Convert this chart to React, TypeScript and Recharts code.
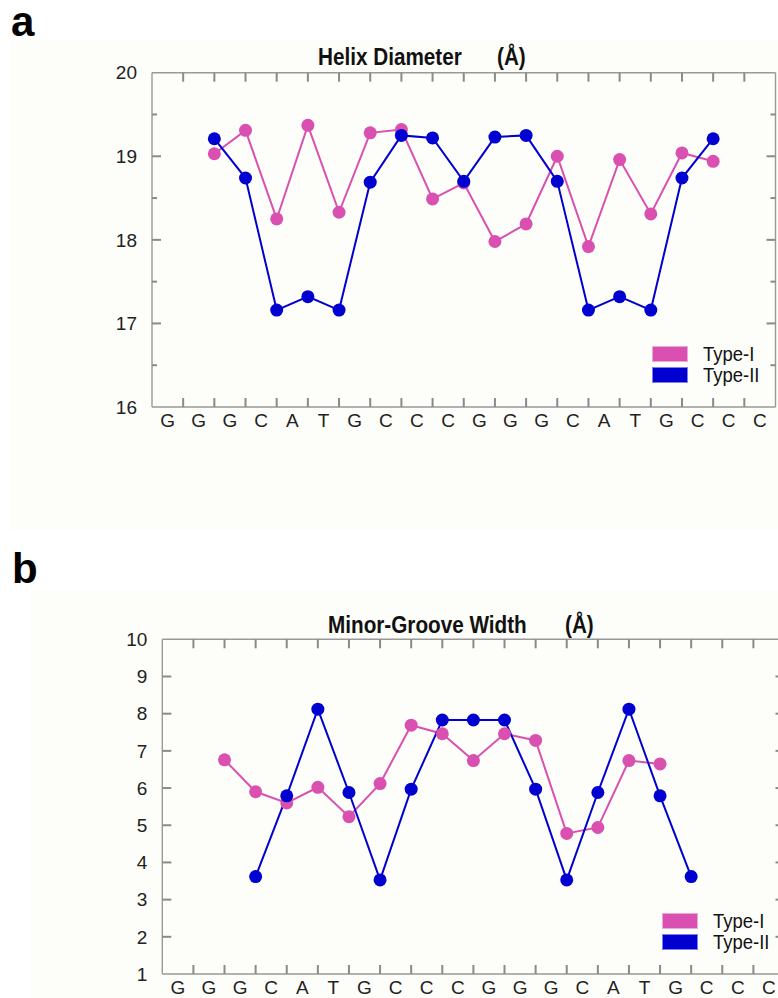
import { LineChart, Line, XAxis, YAxis, Legend } from 'recharts'

// base sequence along the x axis; values sit on the steps between bases
const bases = ['G', 'G', 'G', 'C', 'A', 'T', 'G', 'C', 'C', 'C', 'G', 'G', 'G', 'C', 'A', 'T', 'G', 'C', 'C', 'C']
const stepTicks = [1, 2, 3, 4, 5, 6, 7, 8, 9, 10, 11, 12, 13, 14, 15, 16, 17, 18, 19]
// letters sit halfway between steps, marks sit on the steps
const bottomTicks = bases.flatMap((_, i) => (i === 0 ? [0.5] : [i, i + 0.5]))

// panel a: helix diameter (Å)
const helixSteps = [2, 3, 4, 5, 6, 7, 8, 9, 10, 11, 12, 13, 14, 15, 16, 17, 18]
const helixTypeI = [19.03, 19.31, 18.25, 19.37, 18.33, 19.28, 19.32, 18.49, 18.68, 17.98, 18.19, 19.0, 17.92, 18.96, 18.31, 19.04, 18.94]
const helixTypeII = [19.21, 18.74, 17.16, 17.32, 17.16, 18.69, 19.25, 19.22, 18.7, 19.23, 19.25, 18.7, 17.16, 17.32, 17.16, 18.74, 19.21]
const helixTicks = [16, 16.5, 17, 17.5, 18, 18.5, 19, 19.5, 20]

// panel b: minor-groove width (Å)
const grooveStepsI = [2, 3, 4, 5, 6, 7, 8, 9, 10, 11, 12, 13, 14, 15, 16]
const grooveTypeI = [6.76, 5.9, 5.6, 6.02, 5.23, 6.12, 7.69, 7.46, 6.74, 7.46, 7.28, 4.78, 4.94, 6.74, 6.65]
const grooveStepsII = [3, 4, 5, 6, 7, 8, 9, 10, 11, 12, 13, 14, 15, 16, 17]
const grooveTypeII = [3.62, 5.79, 8.12, 5.88, 3.53, 5.97, 7.83, 7.83, 7.83, 5.97, 3.53, 5.88, 8.12, 5.79, 3.62]
const grooveTicks = [1, 2, 3, 4, 5, 6, 7, 8, 9, 10]

const PINK = '#d950b1'
const BLUE = '#0000d0'
const AXIS = '#999999'
const MARK = '#8a8a8a'
const SANS = '"Liberation Sans", Arial, Helvetica, sans-serif'
const MAJOR = 9
const MINOR = 5
const MARK_W = 2

const toPoints = (steps: number[], vals: number[]) => steps.map((x, i) => ({ x, v: vals[i] }))
const isWhole = (v: number) => Math.abs(v - Math.round(v)) < 1e-6

// bottom axis: tickSize 6 + tickMargin 1 below the plot edge
function BottomTick(props: any) {
  const x = Number(props.x)
  const y = Number(props.y)
  const v = Number(props.payload.value)
  const edge = y - 7
  if (isWhole(v)) {
    return (
      <g>
        <line x1={x} x2={x} y1={edge} y2={edge - MAJOR} stroke={MARK} strokeWidth={MARK_W} />
      </g>
    )
  }
  return (
    <g>
      <text x={x} y={y} dy="0.71em" textAnchor="middle" fill="#222" fontSize={19} fontFamily={SANS}>
        {bases[Math.floor(v)]}
      </text>
    </g>
  )
}

// top axis has no tick size or margin, so y is the plot edge
function TopTick(props: any) {
  const x = Number(props.x)
  const y = Number(props.y)
  return (
    <g>
      <line x1={x} x2={x} y1={y} y2={y + MAJOR} stroke={MARK} strokeWidth={MARK_W} />
    </g>
  )
}

function makeLeftTick(lo: number, hi: number) {
  return function LeftTick(props: any) {
    const x = Number(props.x)
    const y = Number(props.y)
    const v = Number(props.payload.value)
    const edge = x + 15
    const len = isWhole(v) ? MAJOR : MINOR
    return (
      <g>
        {v > lo && v < hi && <line x1={edge} x2={edge + len} y1={y} y2={y} stroke={MARK} strokeWidth={MARK_W} />}
        {isWhole(v) && (
          <text x={x} y={y} dy="0.355em" textAnchor="end" fill="#222" fontSize={19} fontFamily={SANS}>
            {v}
          </text>
        )}
      </g>
    )
  }
}

function makeRightTick(lo: number, hi: number) {
  return function RightTick(props: any) {
    const x = Number(props.x)
    const y = Number(props.y)
    const v = Number(props.payload.value)
    const len = isWhole(v) ? MAJOR : MINOR
    return (
      <g>
        {v > lo && v < hi && <line x1={x} x2={x - len} y1={y} y2={y} stroke={MARK} strokeWidth={MARK_W} />}
      </g>
    )
  }
}

function LegendBox({ payload }: any) {
  return (
    <div>
      {(payload || []).map((p: any) => (
        <div key={p.value} style={{ display: 'flex', alignItems: 'center', height: 21 }}>
          <span
            style={{
              display: 'inline-block',
              width: 36,
              height: 16,
              background: p.color,
              boxSizing: 'border-box',
              border: '1px solid rgba(255,255,255,0.5)',
            }}
          />
          <span
            style={{
              display: 'inline-block',
              marginLeft: 15,
              fontFamily: SANS,
              fontSize: 21,
              color: '#111',
              lineHeight: '20px',
              transform: 'scaleX(0.88)',
              transformOrigin: 'left center',
              whiteSpace: 'nowrap',
            }}
          >
            {p.value}
          </span>
        </div>
      ))}
    </div>
  )
}

interface PanelProps {
  top: number
  width: number
  height: number
  margin: { top: number; right: number; bottom: number; left: number }
  yDomain: [number, number]
  yTicks: number[]
  typeI: { x: number; v: number }[]
  typeII: { x: number; v: number }[]
  legendLeft: number
  legendTop: number
}

function Panel(props: PanelProps) {
  const { top, width, height, margin, yDomain, yTicks, typeI, typeII, legendLeft, legendTop } = props
  const [lo, hi] = yDomain
  return (
    <div style={{ position: 'absolute', top, left: 0 }}>
      <LineChart width={width} height={height} margin={margin}>
        <XAxis
          xAxisId="lab"
          type="number"
          dataKey="x"
          domain={[0, 20]}
          allowDataOverflow
          ticks={bottomTicks}
          interval={0}
          tickLine={false}
          tickSize={6}
          tickMargin={1}
          height={30}
          axisLine={{ stroke: AXIS, strokeWidth: 1.4 }}
          tick={BottomTick}
        />
        <XAxis
          xAxisId="tp"
          orientation="top"
          type="number"
          dataKey="x"
          domain={[0, 20]}
          allowDataOverflow
          ticks={stepTicks}
          interval={0}
          height={1}
          tickLine={false}
          tickSize={0}
          tickMargin={0}
          axisLine={{ stroke: AXIS, strokeWidth: 1.4 }}
          tick={TopTick}
        />
        <YAxis
          yAxisId="y"
          type="number"
          domain={yDomain}
          allowDataOverflow
          ticks={yTicks}
          interval={0}
          width={50}
          tickLine={false}
          tickSize={8}
          tickMargin={7}
          axisLine={{ stroke: AXIS, strokeWidth: 1.4 }}
          tick={makeLeftTick(lo, hi)}
        />
        <YAxis
          yAxisId="r"
          orientation="right"
          type="number"
          domain={yDomain}
          allowDataOverflow
          ticks={yTicks}
          interval={0}
          width={1}
          tickLine={false}
          tickSize={0}
          tickMargin={0}
          axisLine={{ stroke: AXIS, strokeWidth: 1.4 }}
          tick={makeRightTick(lo, hi)}
        />
        <Line
          xAxisId="lab"
          yAxisId="y"
          name="Type-I"
          data={typeI}
          dataKey="v"
          stroke={PINK}
          strokeWidth={2}
          dot={{ r: 6.5, fill: PINK, stroke: PINK, strokeWidth: 0 }}
          isAnimationActive={false}
        />
        <Line
          xAxisId="lab"
          yAxisId="y"
          name="Type-II"
          data={typeII}
          dataKey="v"
          stroke={BLUE}
          strokeWidth={2}
          dot={{ r: 6.5, fill: BLUE, stroke: BLUE, strokeWidth: 0 }}
          isAnimationActive={false}
        />
        <Legend
          layout="vertical"
          align="center"
          verticalAlign="middle"
          wrapperStyle={{ left: legendLeft, top: legendTop, width: 140 }}
          content={LegendBox}
        />
      </LineChart>
    </div>
  )
}

const titleStyle = {
  position: 'absolute' as const,
  fontFamily: SANS,
  fontWeight: 700,
  fontSize: 23,
  lineHeight: '23px',
  color: '#111',
  whiteSpace: 'pre' as const,
  transform: 'scaleX(0.9)',
  transformOrigin: 'left center',
}

const panelLetter = {
  position: 'absolute' as const,
  fontFamily: SANS,
  fontWeight: 700,
  fontSize: 42,
  lineHeight: '44px',
  color: '#000',
}

export default function App() {
  return (
    <div
      style={{
        position: 'absolute',
        top: 0,
        left: 0,
        width: 778,
        height: 998,
        overflow: 'hidden',
        background: '#ffffff',
      }}
    >
      <div style={{ position: 'absolute', left: 10, top: 40, width: 768, height: 490, background: '#fdfdfa' }} />
      <div style={{ position: 'absolute', left: 30, top: 590, width: 748, height: 408, background: '#fdfdfa' }} />

      <div style={{ ...panelLetter, left: 11, top: 0 }}>a</div>
      <div style={{ ...titleStyle, left: 318, top: 46 }}>Helix Diameter</div>
      <div style={{ ...titleStyle, left: 497, top: 46 }}>(Å)</div>
      <Panel
        top={0}
        width={778}
        height={450}
        margin={{ top: 71.7, right: 1.5, bottom: 13, left: 102 }}
        yDomain={[16, 20]}
        yTicks={helixTicks}
        typeI={toPoints(helixSteps, helixTypeI)}
        typeII={toPoints(helixSteps, helixTypeII)}
        legendLeft={652}
        legendTop={343.5}
      />

      <div style={{ ...panelLetter, left: 12, top: 547 }}>b</div>
      <div style={{ ...titleStyle, left: 328, top: 614 }}>Minor-Groove Width</div>
      <div style={{ ...titleStyle, left: 565, top: 614 }}>(Å)</div>
      <Panel
        top={560}
        width={800}
        height={450}
        margin={{ top: 78.3, right: 14.5, bottom: 6, left: 112.3 }}
        yDomain={[1, 10]}
        yTicks={grooveTicks}
        typeI={toPoints(grooveStepsI, grooveTypeI)}
        typeII={toPoints(grooveStepsII, grooveTypeII)}
        legendLeft={662}
        legendTop={350.5}
      />
    </div>
  )
}
